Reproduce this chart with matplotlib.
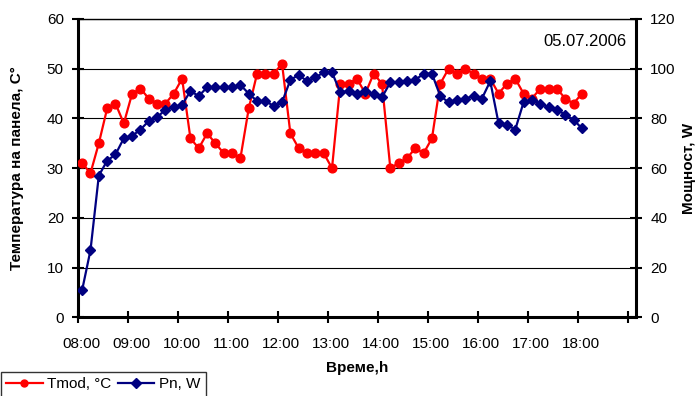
import matplotlib
matplotlib.use("Agg")
import matplotlib.pyplot as plt
import matplotlib.transforms as mtransforms

plt.rcParams['font.family'] = ['Liberation Sans', 'DejaVu Sans']

# Measurement times (10-minute sampling)
times = [
    "08:05", "08:15", "08:25", "08:35", "08:45", "08:55",
    "09:05", "09:15", "09:25", "09:35", "09:45", "09:55",
    "10:05", "10:15", "10:25", "10:35", "10:45", "10:55",
    "11:05", "11:15", "11:25", "11:35", "11:45", "11:55",
    "12:05", "12:15", "12:25", "12:35", "12:45", "12:55",
    "13:05", "13:15", "13:25", "13:35", "13:45", "13:55",
    "14:05", "14:15", "14:25", "14:35", "14:45", "14:55",
    "15:05", "15:15", "15:25", "15:35", "15:45", "15:55",
    "16:05", "16:15", "16:25", "16:35", "16:45", "16:55",
    "17:05", "17:15", "17:25", "17:35", "17:45", "17:55",
    "18:05",
]

# Module temperature, °C
tmod = [31, 29, 35, 42, 43, 39, 45, 46, 44, 43,
        43, 45, 48, 36, 34, 37, 35, 33, 33, 32,
        42, 49, 49, 49, 51, 37, 34, 33, 33, 33,
        30, 47, 47, 48, 45, 49, 47, 30, 31, 32,
        34, 33, 36, 47, 50, 49, 50, 49, 48, 48,
        45, 47, 48, 45, 44, 46, 46, 46, 44, 43,
        45]

# Output power, W
pn = [11, 27, 57, 63, 65.5, 72, 73, 75.5, 79, 80.5,
      83.5, 84.5, 85.5, 91, 89, 92.5, 92.5, 92.5, 92.5, 93.5,
      90, 87, 87, 85, 86.5, 95.5, 97.5, 95, 96.5, 98.5,
      98.5, 90.5, 91, 90, 91, 90, 88.5, 94.5, 94.5, 95,
      95.5, 98, 98, 89, 86.5, 87.5, 88, 89, 88, 95,
      78, 77.5, 75.5, 86.5, 87.5, 86, 84.5, 83.5, 81.5, 79.5,
      76]

hour_labels = ["08:00", "09:00", "10:00", "11:00", "12:00", "13:00",
               "14:00", "15:00", "16:00", "17:00", "18:00", ""]
hour_ticks = [8, 9, 10, 11, 12, 13, 14, 15, 16, 17, 18, 19]


def to_hours(s):
    h, m = s.split(":")
    return int(h) + int(m) / 60.0


x = [to_hours(t) for t in times]

W, H = 697, 396
fig = plt.figure(figsize=(W / 100, H / 100), dpi=100)
ax = fig.add_axes([78 / W, 1 - 317.3 / H, (636 - 78) / W, (317.3 - 19) / H])
ax2 = ax.twinx()

red = '#FF0000'
navy = '#000080'

l1, = ax.plot(x, tmod, color=red, lw=1.6, marker='o', ms=6.3,
              mec=red, mfc=red, label='Tmod, °C', zorder=3)
l2, = ax2.plot(x, pn, color=navy, lw=1.6, marker='D', ms=5,
               mec=navy, mfc=navy, label='Pn, W', zorder=3)

ax.set_xlim(8, 19 + 10 / 60)
ax.set_ylim(0, 60)
ax2.set_ylim(0, 120)
ax.set_yticks(range(0, 61, 10))
ax2.set_yticks(range(0, 121, 20))
ax.set_xticks(hour_ticks)
ax.set_xticklabels(hour_labels)

ax.grid(axis='y', color='black', lw=0.8)
ax.set_axisbelow(True)

for side in ('left', 'bottom'):
    ax.spines[side].set_linewidth(2.2)
ax.spines['top'].set_linewidth(1.0)
ax.spines['right'].set_visible(False)
for side in ('left', 'bottom', 'top'):
    ax2.spines[side].set_visible(False)
ax2.spines['right'].set_linewidth(2.2)

ax.tick_params(axis='both', direction='inout', length=8.5, width=1.5,
               labelsize=11, color='black')
ax.tick_params(axis='x', pad=10)
ax.tick_params(axis='y', pad=6)
ax2.tick_params(axis='y', direction='inout', length=8.5, width=1.5,
                labelsize=11, pad=6)

shift = mtransforms.ScaledTranslation(3.5 / 100, 0, fig.dpi_scale_trans)
for lab in ax.get_xticklabels():
    lab.set_transform(lab.get_transform() + shift)

ax.set_xlabel('Време,h', fontsize=11, fontweight='bold', labelpad=7)

# Axis titles placed in figure pixels
fig.text(17 / W, 1 - 168 / H, 'Температура на панела, C°', rotation=90,
         ha='center', va='center', fontsize=11, fontweight='bold')
fig.text(689 / W, 1 - 168 / H, 'Мощност, W', rotation=90,
         ha='center', va='center', fontsize=11, fontweight='bold')

fig.text(626 / W, 1 - 41 / H, '05.07.2006', ha='right', va='center',
         fontsize=12)

leg = fig.legend(handles=[l1, l2], loc='upper left',
                 bbox_to_anchor=(0.001, 1 - 372 / H), ncol=2,
                 frameon=True, fancybox=False, edgecolor='black',
                 handlelength=2.4, columnspacing=0.4, handletextpad=0.3,
                 borderaxespad=0, borderpad=0.35, fontsize=11)
leg.get_frame().set_linewidth(1.0)
for h in leg.legend_handles:
    h.set_markersize(5)

fig.savefig('out.png', dpi=100)
